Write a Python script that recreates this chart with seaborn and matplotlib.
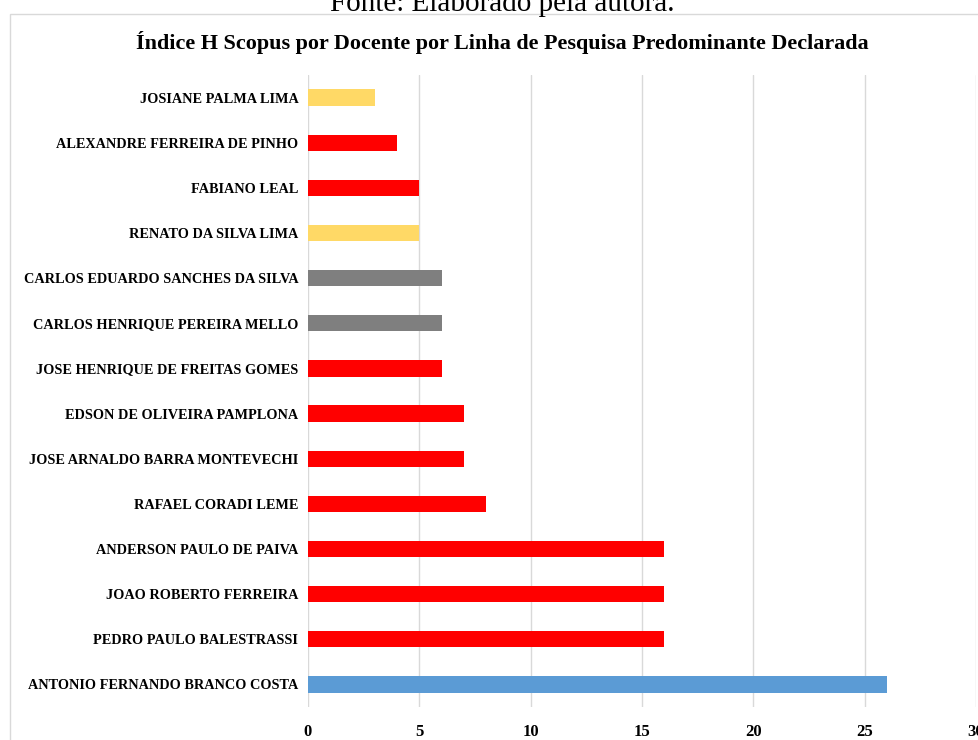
import matplotlib
matplotlib.use("Agg")
import matplotlib.pyplot as plt
import seaborn as sns
import pandas as pd
from matplotlib.patches import Rectangle

# Data
docentes = [
    "JOSIANE PALMA LIMA",
    "ALEXANDRE FERREIRA DE PINHO",
    "FABIANO LEAL",
    "RENATO DA SILVA LIMA",
    "CARLOS EDUARDO SANCHES DA SILVA",
    "CARLOS HENRIQUE PEREIRA MELLO",
    "JOSE HENRIQUE DE FREITAS GOMES",
    "EDSON DE OLIVEIRA PAMPLONA",
    "JOSE ARNALDO BARRA MONTEVECHI",
    "RAFAEL CORADI LEME",
    "ANDERSON PAULO DE PAIVA",
    "JOAO ROBERTO FERREIRA",
    "PEDRO PAULO BALESTRASSI",
    "ANTONIO FERNANDO BRANCO COSTA",
]
indice_h = [3, 4, 5, 5, 6, 6, 6, 7, 7, 8, 16, 16, 16, 26]
linha = ["amarela", "vermelha", "vermelha", "amarela", "cinza", "cinza", "vermelha",
         "vermelha", "vermelha", "vermelha", "vermelha", "vermelha", "vermelha", "azul"]
cores = {"vermelha": "#FF0000", "amarela": "#FFD966", "cinza": "#7F7F7F", "azul": "#5B9BD5"}

df = pd.DataFrame({"docente": docentes, "h": indice_h, "linha": linha})

sns.set_style("white")
plt.rcParams["font.family"] = ["Liberation Serif", "DejaVu Serif"]
plt.rcParams["text.color"] = "black"
plt.rcParams["xtick.color"] = "black"
plt.rcParams["ytick.color"] = "black"

W, H = 979, 740
fig = plt.figure(figsize=(W / 100, H / 100), dpi=100)
ax = fig.add_axes([308 / W, 1 - 707 / H, (976 - 308) / W, (707 - 75) / H])

sns.barplot(data=df, x="h", y="docente", hue="linha", palette=cores,
            orient="h", width=0.36, dodge=False, legend=False, saturation=1,
            linewidth=0, ax=ax)

ax.set_xlim(0, 30)
ax.set_ylim(13.5, -0.5)
ax.set_xticks(range(0, 31, 5))
ax.grid(axis="x", color="#D9D9D9", linewidth=1)
ax.set_axisbelow(True)
for s in ax.spines.values():
    s.set_visible(False)
ax.set_xlabel("")
ax.set_ylabel("")
ax.tick_params(axis="y", length=0, pad=7)
ax.tick_params(axis="x", length=0, pad=12)
for lab in ax.get_yticklabels():
    lab.set_fontsize(10.3)
    lab.set_fontweight("bold")
for lab in ax.get_xticklabels():
    lab.set_fontsize(12)
    lab.set_fontweight("bold")

# chart frame
fig.patches.append(Rectangle((10 / W, -0.1), (W + 20) / W, 1.1 - 14 / H,
                             transform=fig.transFigure, fill=False,
                             edgecolor="#D9D9D9", linewidth=1))

fig.text(502 / W, 1 - 42 / H,
         "Índice H Scopus por Docente por Linha de Pesquisa Predominante Declarada",
         ha="center", va="center", fontsize=15.9, fontweight="bold")
fig.text(502 / W, 1 - 11 / H, "Fonte: Elaborado pela autora.",
         ha="center", va="baseline", fontsize=21)

fig.savefig("out.png", dpi=100)
